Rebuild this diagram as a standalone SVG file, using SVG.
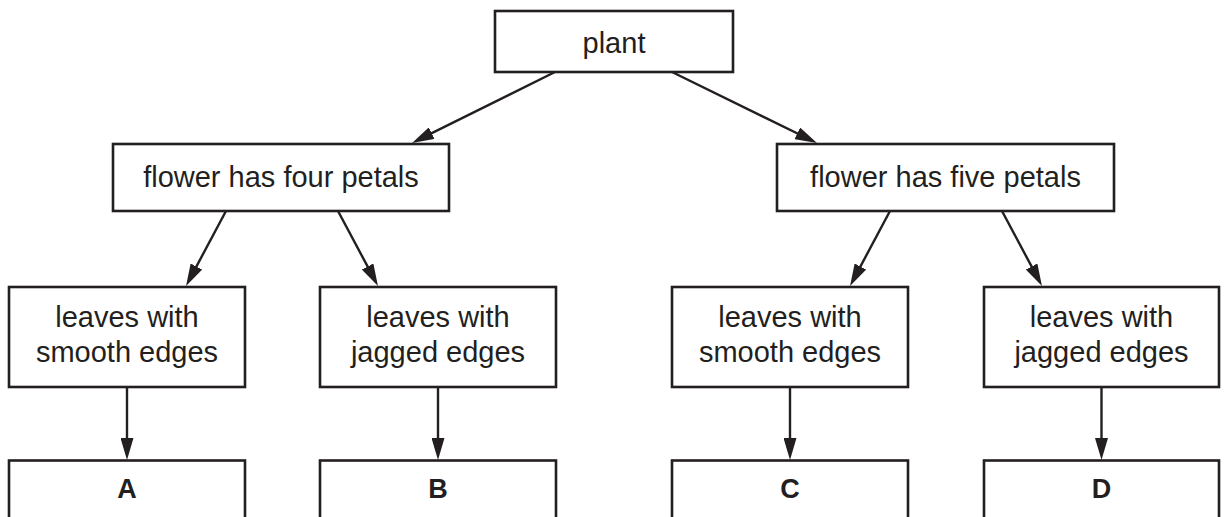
<svg xmlns="http://www.w3.org/2000/svg" width="1228" height="517" viewBox="0 0 1228 517">
<style>
.box{fill:#fff;stroke:#231f20;stroke-width:2.6}
.lbl{font-family:"Liberation Sans",Arial,sans-serif;font-size:29px;fill:#231f20;text-anchor:middle}
.ltr{font-family:"Liberation Sans",Arial,sans-serif;font-size:27px;font-weight:bold;fill:#231f20;text-anchor:middle}
.con line{stroke:#231f20;stroke-width:2.4;marker-end:url(#ah)}
</style>
<defs>
<marker id="ah" markerUnits="userSpaceOnUse" markerWidth="22" markerHeight="13" refX="14" refY="6.5" orient="auto" viewBox="0 0 22 13">
<path d="M0,0 L22,6.5 L0,13 Z" fill="#231f20"/>
</marker>
</defs>
<rect width="1228" height="517" fill="#fff"/>
<g id="connectors" class="con">
<line x1="555" y1="72" x2="419.2" y2="139.4"/>
<line x1="672" y1="72" x2="809.8" y2="139.5"/>
<line x1="226" y1="211" x2="189.8" y2="278.9"/>
<line x1="338" y1="211" x2="374.2" y2="278.9"/>
<line x1="890" y1="211" x2="853.8" y2="278.9"/>
<line x1="1002" y1="211" x2="1038.2" y2="278.9"/>
<line x1="127" y1="387" x2="127" y2="452"/>
<line x1="438" y1="387" x2="438" y2="452"/>
<line x1="790" y1="387" x2="790" y2="452"/>
<line x1="1101.5" y1="387" x2="1101.5" y2="452"/>
</g>
<g id="plant"><rect class="box" x="495" y="11" width="238" height="61"/><text class="lbl" x="614" y="53">plant</text></g>
<g id="four"><rect class="box" x="113" y="144" width="336" height="67"/><text class="lbl" x="281" y="187">flower has four petals</text></g>
<g id="five"><rect class="box" x="777" y="144" width="337" height="67"/><text class="lbl" x="945.5" y="187">flower has five petals</text></g>
<g id="leavesA"><rect class="box" x="9" y="287" width="236" height="100"/><text class="lbl" x="127" y="327">leaves with</text><text class="lbl" x="127" y="362">smooth edges</text></g>
<g id="leavesB"><rect class="box" x="320" y="287" width="236" height="100"/><text class="lbl" x="438" y="327">leaves with</text><text class="lbl" x="438" y="362">jagged edges</text></g>
<g id="leavesC"><rect class="box" x="672" y="287" width="236" height="100"/><text class="lbl" x="790" y="327">leaves with</text><text class="lbl" x="790" y="362">smooth edges</text></g>
<g id="leavesD"><rect class="box" x="984" y="287" width="235" height="100"/><text class="lbl" x="1101.5" y="327">leaves with</text><text class="lbl" x="1101.5" y="362">jagged edges</text></g>
<g id="A"><rect class="box" x="9" y="460.5" width="236" height="80"/><text class="ltr" x="127" y="498">A</text></g>
<g id="B"><rect class="box" x="320" y="460.5" width="236" height="80"/><text class="ltr" x="438" y="498">B</text></g>
<g id="C"><rect class="box" x="672" y="460.5" width="236" height="80"/><text class="ltr" x="790" y="498">C</text></g>
<g id="D"><rect class="box" x="984" y="460.5" width="235" height="80"/><text class="ltr" x="1101.5" y="498">D</text></g>
</svg>
